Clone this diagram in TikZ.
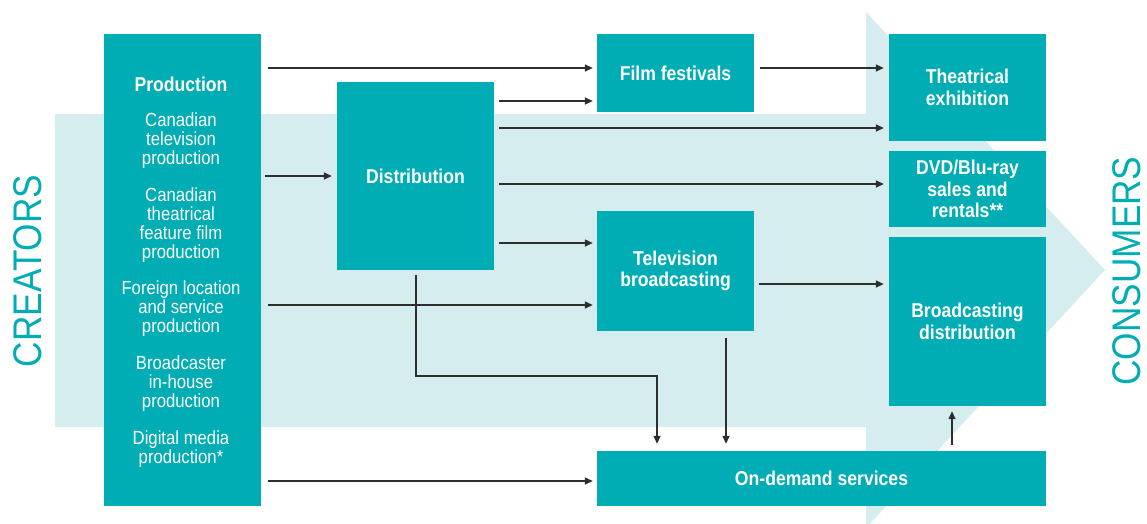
\documentclass[tikz,border=0pt]{standalone}
\usepackage{fontspec}
\setmainfont{Liberation Sans}[FakeStretch=0.88]
\usetikzlibrary{arrows.meta,calc}
\definecolor{teal1}{HTML}{00ADB4}
\definecolor{pale}{HTML}{D6EDEF}
\definecolor{linec}{HTML}{2E2E2E}
\tikzset{
  box/.style={fill=teal1, draw=none, inner sep=0pt, text=white, align=center,
    font=\fontsize{20}{21.5}\selectfont\bfseries},
  sub/.style={text=white, align=center, inner sep=0pt,
    font=\fontsize{19}{19}\selectfont},
  arr/.style={draw=linec, line width=1.4pt, -{Triangle[length=8pt,width=7pt]}},
  big/.style={text=teal1, font=\fontsize{40}{40}\selectfont, inner sep=0pt}
}
\begin{document}
\begin{tikzpicture}[x=1pt,y=-1pt]
\useasboundingbox (0,0) rectangle (1147,523);
% background arrow
\fill[pale] (55,114) -- (866,114) -- (866,12) -- (1105,270) -- (866,528) -- (866,427) -- (55,427) -- cycle;
% boxes
\node[box, minimum width=157pt, minimum height=472pt] (prod) at (182.5,270) {};
\node[box, minimum width=157pt, minimum height=188pt] (dist) at (415.5,176) {Distribution};
\node[box, minimum width=157pt, minimum height=78pt] (ff) at (675.5,73) {Film festivals};
\node[box, minimum width=157pt, minimum height=120pt] (tv) at (675.5,271) {Television\\broadcasting};
\node[box, minimum width=449pt, minimum height=55pt] (od) at (821.5,478.5) {On-demand services};
\node[box, minimum width=157pt, minimum height=107pt] (te) at (967.5,87.5) {Theatrical\\exhibition};
\node[box, minimum width=157pt, minimum height=76pt] (dvd) at (967.5,189) {DVD/Blu-ray\\sales and\\rentals**};
\node[box, minimum width=157pt, minimum height=169pt] (bd) at (967.5,321.5) {Broadcasting\\distribution};
% production texts
\node[box, fill=none] (ptitle) at (181,84) {Production};
\node[sub] (p1) at (181,141) {Canadian\\television\\production};
\node[sub] (p2) at (181,225) {Canadian\\theatrical\\feature film\\production};
\node[sub] (p3) at (181,309) {Foreign location\\and service\\production};
\node[sub] (p4) at (181,384) {Broadcaster\\in-house\\production};
\node[sub] (p5) at (181,449) {Digital media\\production*};
% side labels
\node[big, rotate=90] (cre) at (28,271) {CREATORS};
\node[big, rotate=90] (con) at (1127,271) {CONSUMERS};
% connectors
\draw[arr] ($(prod.east |- 0,68)+(7,0)$) -- ($(ff.west |- 0,68)+(-4,0)$);
\draw[arr] ($(prod.east |- 0,176)+(4,0)$) -- ($(dist.west |- 0,176)+(-5,0)$);
\draw[arr] ($(prod.east |- 0,305)+(7,0)$) -- ($(tv.west |- 0,305)+(-4,0)$);
\draw[arr] ($(prod.east |- 0,481)+(7,0)$) -- ($(od.west |- 0,481)+(-4,0)$);
\draw[arr] ($(dist.east |- 0,101)+(5,0)$) -- ($(ff.west |- 0,101)+(-4,0)$);
\draw[arr] ($(dist.east |- 0,128)+(5,0)$) -- ($(te.west |- 0,128)+(-5,0)$);
\draw[arr] ($(dist.east |- 0,184)+(5,0)$) -- ($(dvd.west |- 0,184)+(-5,0)$);
\draw[arr] ($(dist.east |- 0,243)+(5,0)$) -- ($(tv.west |- 0,243)+(-4,0)$);
\draw[arr] ($(ff.east |- 0,68)+(6,0)$) -- ($(te.west |- 0,68)+(-5,0)$);
\draw[arr] ($(tv.east |- 0,284)+(5,0)$) -- ($(bd.west |- 0,284)+(-5,0)$);
\draw[arr] ($(dist.south -| 416,0)+(0,5)$) |- (657,376) -- ($(od.north -| 657,0)+(0,-7)$);
\draw[arr] ($(tv.south -| 726,0)+(0,7)$) -- ($(od.north -| 726,0)+(0,-7)$);
\draw[arr] ($(od.north -| 952,0)+(0,-6)$) -- ($(bd.south -| 952,0)+(0,5)$);
\end{tikzpicture}
\end{document}
